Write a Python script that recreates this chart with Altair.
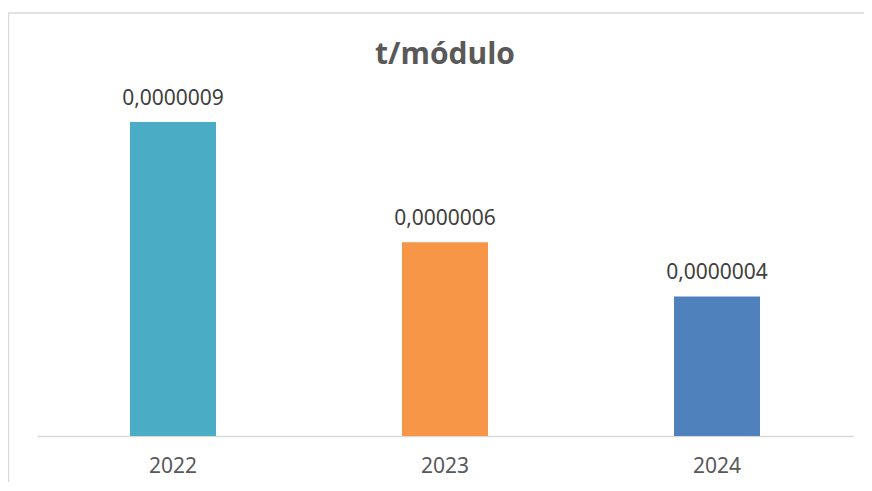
import altair as alt
import pandas as pd

years = ["2022", "2023", "2024"]
values = [9.0e-7, 5.55e-7, 4.0e-7]
value_labels = ["0,0000009", "0,0000006", "0,0000004"]
bar_colors = ["#4BACC6", "#F79646", "#4F81BD"]
title_text = "t/módulo"

df = pd.DataFrame({"year": years, "value": values, "label": value_labels})

W, H = 816, 349

x_enc = alt.X("year:N", sort=years, title=None,
              scale=alt.Scale(paddingInner=0, paddingOuter=0),
              axis=alt.Axis(labelAngle=0, ticks=False, grid=False,
                            domainColor="#D9D9D9", domainWidth=1.5,
                            labelColor="#595959", labelFont="Noto Sans",
                            labelFontSize=21, labelPadding=19))
y_scale = alt.Scale(domain=[0, 1e-6])

bars = alt.Chart(df).mark_bar(size=86).encode(
    x=x_enc,
    y=alt.Y("value:Q", scale=y_scale, axis=None),
    color=alt.Color("year:N", scale=alt.Scale(domain=years, range=bar_colors), legend=None),
)

texts = alt.Chart(df).mark_text(
    font="Noto Sans", fontSize=21, color="#404040", baseline="alphabetic", dy=-17
).encode(
    x=alt.X("year:N", sort=years),
    y=alt.Y("value:Q", scale=y_scale),
    text="label:N",
)

title = alt.Chart(pd.DataFrame({"t": [title_text]})).mark_text(
    font="Open Sans", fontSize=30, fontWeight="bold", color="#595959",
    baseline="alphabetic", align="center"
).encode(x=alt.value(W / 2), y=alt.value(-23.2), text="t:N")

border = alt.Chart(pd.DataFrame({"b": [0]})).mark_rect(
    fill=None, stroke="#D9D9D9", strokeWidth=1.5
).encode(x=alt.value(-28.5), x2=alt.value(W + 60), y=alt.value(-74), y2=alt.value(H + 120))

chart = alt.layer(border, bars, texts, title).properties(
    width=W, height=H,
    padding={"left": 29, "top": 79, "right": 11, "bottom": 46},
    autosize=alt.AutoSizeParams(type="none"),
    background="white",
).configure_view(stroke=None)

chart.save("out.html", embed_options={"renderer": "svg", "actions": False})
